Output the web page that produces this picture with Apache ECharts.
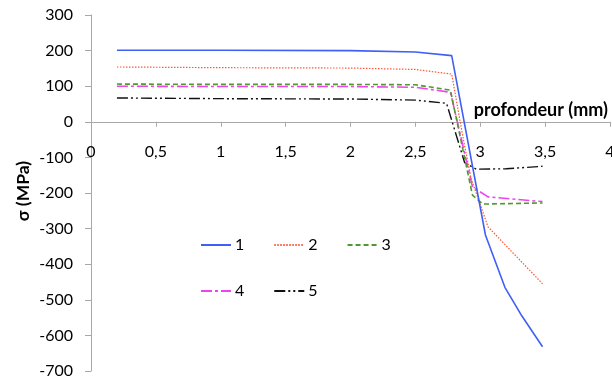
<!DOCTYPE html>
<html>
<head>
<meta charset="utf-8">
<script src="https://cdn.jsdelivr.net/npm/echarts@6/dist/echarts.min.js"></script>
<style>
  html, body { margin: 0; padding: 0; background: #fff; }
  #chart { width: 612px; height: 381px; }
</style>
</head>
<body>
<div id="chart"></div>
<script>
// Residual stress profiles σ (MPa) versus depth (mm), five curves
const seriesNames = ['1', '2', '3', '4', '5'];

const depth1  = [0.2, 1.0, 2.0, 2.5, 2.78, 3.04, 3.19, 3.32, 3.48];
const stress1 = [201, 201, 200, 196, 186, -318, -465, -545, -632];

const depth2  = [0.2, 1.0, 2.0, 2.5, 2.78, 2.87, 2.93, 3.06, 3.48];
const stress2 = [154, 152, 151, 147, 134, -50, -160, -295, -455];

const depth3  = [0.2, 1.0, 2.0, 2.5, 2.77, 2.94, 3.02, 3.48];
const stress3 = [106, 105, 105, 104, 89, -206, -231, -228];

const depth4  = [0.2, 1.0, 2.0, 2.5, 2.77, 2.94, 3.06, 3.48];
const stress4 = [100, 99, 99, 97, 83, -183, -211, -224];

const depth5  = [0.2, 1.0, 2.0, 2.5, 2.74, 2.88, 2.97, 3.2, 3.48];
const stress5 = [67, 65, 64, 61, 52, -115, -133, -132, -125];

const depths   = [depth1, depth2, depth3, depth4, depth5];
const stresses = [stress1, stress2, stress3, stress4, stress5];

const yMin = -700, yMax = 300;

const colors = ['#3f5ff7', '#ff5533', '#4f9a2c', '#ee44ee', '#111111'];
const widths = [1.6, 1.2, 1.6, 1.6, 1.4];
const dashes = ['solid', [1.5, 1.5], [5, 3], [11, 3, 3, 3], [11, 3, 2, 3, 2, 3]];

const font = 'Lato, "Open Sans", sans-serif';

// plot area box
const gridTop = 15, gridBottom = 10, chartH = 381;
const plotH = chartH - gridTop - gridBottom;
// lift the depth axis from the bottom edge up to the σ = 0 line
const zeroOffset = -plotH * (0 - yMin) / (yMax - yMin);

const chart = echarts.init(document.getElementById('chart'), null, { renderer: 'canvas' });

const series = seriesNames.map((name, i) => ({
  name: name,
  type: 'line',
  symbol: 'none',
  data: depths[i].map((d, k) => [d, stresses[i][k]]),
  lineStyle: { color: colors[i], width: widths[i], type: dashes[i] },
  itemStyle: { color: colors[i] },
  z: 5 - i
}));

const legendCommon = {
  orient: 'horizontal',
  left: 195,
  itemWidth: 30,
  itemHeight: 14,
  itemGap: 29,
  itemStyle: { color: 'transparent', borderWidth: 0, opacity: 0 },
  textStyle: { fontFamily: font, fontSize: 16, color: '#000', padding: [0, 0, 0, -1] }
};

chart.setOption({
  animation: false,
  backgroundColor: '#fff',
  textStyle: { fontFamily: font },
  grid: { left: 91, right: 2, top: gridTop, bottom: gridBottom, containLabel: false, outerBoundsMode: 'none' },
  legend: [
    Object.assign({}, legendCommon, { top: 232, data: ['1', '2', '3'] }),
    Object.assign({}, legendCommon, { top: 278, data: ['4', '5'] })
  ],
  xAxis: {
    type: 'value',
    position: 'bottom',
    offset: zeroOffset,
    min: 0,
    max: 4,
    interval: 0.5,
    name: 'profondeur (mm)',
    nameLocation: 'end',
    nameGap: -2,
    nameTextStyle: {
      fontFamily: font, fontSize: 18, fontWeight: 'bold', color: '#000',
      align: 'right', verticalAlign: 'bottom', padding: [0, 0, 3, 0]
    },
    axisLine: { onZero: false, lineStyle: { color: '#a8a8a8', width: 1 } },
    axisTick: { show: true, inside: false, length: 5, lineStyle: { color: '#a8a8a8' } },
    axisLabel: {
      margin: 22,
      fontFamily: font, fontSize: 16, color: '#000',
      formatter: v => String(v).replace('.', ',')
    },
    splitLine: { show: false }
  },
  yAxis: {
    type: 'value',
    min: yMin,
    max: yMax,
    interval: 100,
    axisLine: { show: true, lineStyle: { color: '#a8a8a8', width: 1 } },
    axisTick: { show: true, inside: false, length: 6, lineStyle: { color: '#a8a8a8' } },
    axisLabel: { margin: 18, fontFamily: font, fontSize: 16, color: '#000' },
    splitLine: { show: false }
  },
  graphic: [{
    type: 'text',
    x: 23,
    y: 191,
    rotation: Math.PI / 2,
    style: {
      text: 'σ (MPa)',
      fontFamily: font, fontSize: 17.5, fontWeight: 'bold', fill: '#000',
      align: 'center', verticalAlign: 'middle'
    }
  }],
  series: series
});
</script>
</body>
</html>
